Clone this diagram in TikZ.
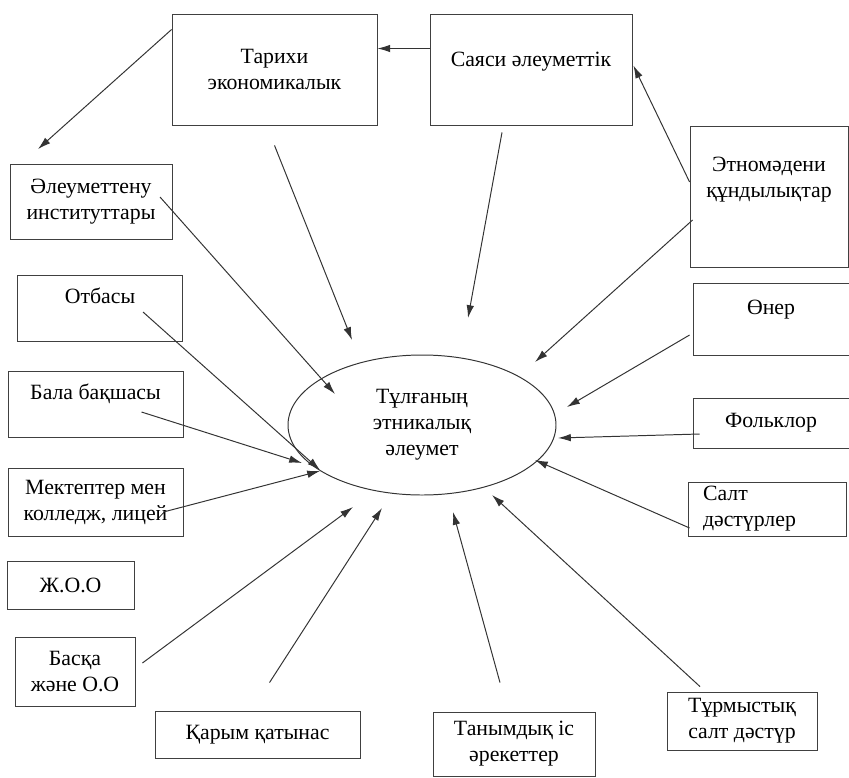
\documentclass[tikz,border=0pt]{standalone}
\usepackage{fontspec}
\setmainfont{Liberation Serif}
\usetikzlibrary{arrows.meta,calc,shapes.geometric}

\begin{document}
\begin{tikzpicture}[x=0.025cm,y=-0.025cm,
    font=\fontsize{15.5}{18.5}\selectfont,
    box/.style={draw=black!75,line width=0.6pt,align=center,inner sep=2pt},
    sz/.style 2 args={minimum width=#1*0.025cm,minimum height=#2*0.025cm},
    arr/.style={draw=black!80,line width=0.7pt,-{Latex[length=3.2mm,width=1.9mm]}}]
  \useasboundingbox (0,0) rectangle (849,777);
  % top row
  \node[box,sz={205}{111}] (tarihi) at (274.5,69.5) {Тарихи\\экономикалык};
  \node[box,sz={202}{111},text depth=15pt] (sayasi) at (531,69.5) {Саяси әлеуметтік};
  % left column
  \node[box,sz={162}{75}] (aleum) at (91,202) {Әлеуметтену\\институттары};
  \node[box,sz={165}{66},text depth=17pt] (otbasy) at (100,308) {Отбасы};
  \node[box,sz={175}{66},text depth=18pt] (bala) at (95.5,404) {Бала бақшасы};
  \node[box,sz={175}{68}] (mektep) at (95.5,502) {Мектептер мен\\колледж, лицей};
  \node[box,sz={127}{48}] (zhoo) at (70.5,585) {Ж.О.О};
  \node[box,sz={120}{69}] (baska) at (75,672) {Басқа\\және О.О};
  % right column
  \node[box,sz={158}{141},text depth=28pt] (etno) at (769,197) {Этномәдени\\құндылықтар};
  \node[box,sz={156}{72},text depth=16pt] (oner) at (771,319) {Өнер};
  \node[box,sz={156}{50}] (folk) at (771,423) {Фольклор};
  \node[box,sz={158}{54},align=left,text width=128*0.025cm,inner xsep=15*0.025cm] (salt) at (767,509) {Салт\\дәстүрлер};
  % bottom row
  \node[box,sz={205}{47}] (karym) at (257.5,734.5) {Қарым қатынас};
  \node[box,sz={162}{64}] (tanym) at (514,744) {Танымдық іс\\әрекеттер};
  \node[box,sz={150}{58}] (turmys) at (742,721) {Тұрмыстық\\салт дәстүр};
  % centre
  \node[ellipse,draw=black!80,line width=0.7pt,align=center,inner sep=0pt,sz={268}{140}] (ell) at (422,425) {Тұлғаның\\этникалық\\әлеумет};

  \draw[arr] ($(sayasi.west)+(0,-21)$) -- ($(tarihi.east)+(0,-21)$);
  \draw[arr] ($(tarihi.west)+(0,-40)$) -- ($(aleum.north)+(-53,-15)$);
  \draw[arr] ($(etno.west)+(0,-15)$) -- ($(sayasi.east)+(1,-4)$);

  \draw[arr] ($(aleum)+(69,-5)$) -- ($(ell)+(-87,-31)$);
  \draw[arr] ($(tarihi.south)+(0,20)$) -- ($(ell)+(-70,-85)$);
  \draw[arr] ($(sayasi.south)+(-29,7)$) -- ($(ell)+(46,-107)$);
  \draw[arr] ($(etno.west)+(3,23)$) -- ($(ell)+(113,-63)$);
  \draw[arr] ($(oner.west)+(-3,16)$) -- ($(ell)+(145,-18)$);
  \draw[arr] ($(folk.west)+(7,11)$) -- ($(ell)+(136,13)$);
  \draw[arr] ($(salt.west)+(2,19)$) -- ($(ell)+(113,35)$);
  \draw[arr] ($(turmys.north)+(-42,-5)$) -- ($(ell)+(70,70)$);
  \draw[arr] ($(tanym.north)+(-14,-29)$) -- ($(ell)+(31,87)$);
  \draw[arr] ($(karym.north)+(12,-28)$) -- ($(ell)+(-40,83)$);
  \draw[arr] ($(baska.east)+(7,-9)$) -- ($(ell)+(-69,82)$);
  \draw[arr] ($(mektep.east)+(-20,10)$) -- ($(ell)+(-102,46)$);
  \draw[arr] ($(bala)+(46,8)$) -- ($(ell)+(-120,38)$);
  \draw[arr] ($(otbasy)+(43,4)$) -- ($(ell)+(-102,45)$);
\end{tikzpicture}
\end{document}
